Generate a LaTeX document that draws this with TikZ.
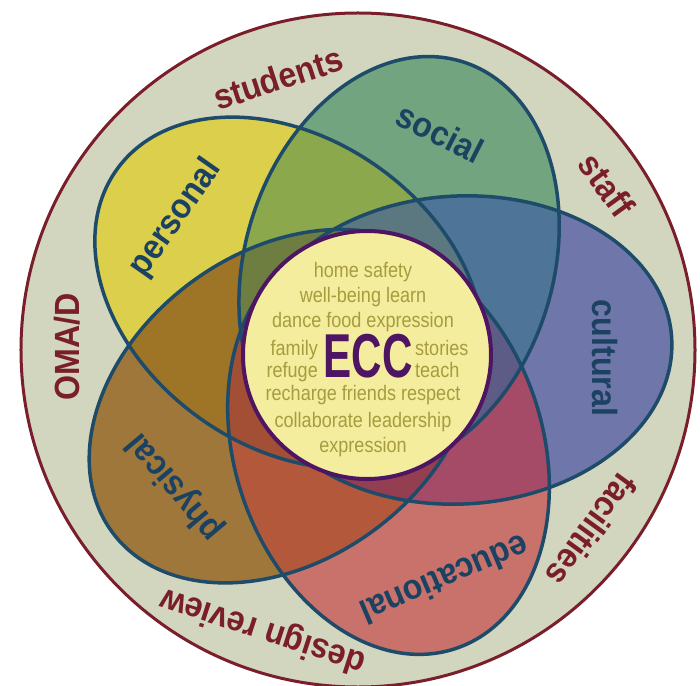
\documentclass[tikz,border=0pt]{standalone}
\usepackage{fontspec}
\setmainfont{Liberation Sans}
\usetikzlibrary{positioning}
\definecolor{ringfill}{HTML}{D2D6BE}
\definecolor{ringline}{HTML}{7A1E2C}
\definecolor{rimline}{HTML}{1D4B69}
\definecolor{setline}{HTML}{1C4262}
\definecolor{eccfill}{HTML}{F3ED9D}
\definecolor{eccline}{HTML}{4E1662}
\definecolor{wordtext}{HTML}{A79C3E}
% one colour per set
\definecolor{social}{HTML}{72A47F}
\definecolor{cultural}{HTML}{6F76A9}
\definecolor{educational}{HTML}{C8726B}
\definecolor{physical}{HTML}{9F773A}
\definecolor{personal}{HTML}{DBCF4B}
% overlaps
\definecolor{cPS}{HTML}{8BA84D}
\definecolor{cSC}{HTML}{4E7597}
\definecolor{cCE}{HTML}{A54A67}
\definecolor{cEPh}{HTML}{B4583B}
\definecolor{cPhP}{HTML}{9E7426}
\definecolor{cPC}{HTML}{6F7C68}
\definecolor{cSE}{HTML}{8D6F62}
\definecolor{cCPh}{HTML}{7E5A62}
\definecolor{cEP}{HTML}{B8782F}
\definecolor{cPhS}{HTML}{7C8A48}
\definecolor{cPSC}{HTML}{5B7881}
\definecolor{cSCE}{HTML}{5D5C86}
\definecolor{cCEPh}{HTML}{943F51}
\definecolor{cEPhP}{HTML}{A34F36}
\definecolor{cPhPS}{HTML}{6D7E40}
\tikzset{
  ring/.style = {fill=ringfill, draw=ringline, line width=3pt},
  rim/.style = {draw=rimline, line width=3.5pt},% ellipse outline
  ringlabel/.style = {font=\bfseries\fontsize{35}{35}\selectfont,
    text=ringline, inner sep=0pt, xscale=0.92},
  setlabel/.style = {font=\bfseries\fontsize{35}{35}\selectfont,
    text=setline, inner sep=0pt, xscale=0.92},
  word/.style = {font=\fontsize{21}{21}\selectfont, text=wordtext,
    inner sep=0pt, anchor=base, xscale=0.86},
  core/.style = {circle, fill=eccfill, draw=eccline, line width=4pt,
    minimum size=248pt, inner sep=0pt}
}
% the five sets
\def\setS{(68.7:96.6) ellipse [x radius=212, y radius=154, rotate=72.5]}
\def\setC{(96,4) ellipse [x radius=212, y radius=154, rotate=3]}
\def\setE{(-75.3:96.6) ellipse [x radius=212, y radius=154, rotate=-71.5]}
\def\setPh{(-147.3:96.6) ellipse [x radius=212, y radius=154, rotate=-143.5]}
\def\setP{(140.7:96.6) ellipse [x radius=212, y radius=154, rotate=144.5]}
\newcommand\vennset[1]{\csname set#1\endcsname}
\begin{document}
\begin{tikzpicture}[x=1pt, y=1pt]
  \useasboundingbox (-364,-331) rectangle (336,354);
  \draw[ring] (-6,4) circle (337);
  % sets
  \fill[social] \setS;
  \fill[cultural] \setC;
  \fill[educational] \setE;
  \fill[physical] \setPh;
  \fill[personal] \setP;
  \foreach \i/\j/\c in {P/S/cPS, S/C/cSC, C/E/cCE, E/Ph/cEPh, Ph/P/cPhP,
                        P/C/cPC, S/E/cSE, C/Ph/cCPh, E/P/cEP, Ph/S/cPhS}{
    \begin{scope}
      \clip \vennset{\i};
      \fill[\c] \vennset{\j};
    \end{scope}
  }
  \foreach \i/\j/\m/\c in {P/S/C/cPSC, S/C/E/cSCE, C/E/Ph/cCEPh, E/Ph/P/cEPhP, Ph/P/S/cPhPS}{
    \begin{scope}
      \clip \vennset{\i};
      \clip \vennset{\j};
      \fill[\c] \vennset{\m};
    \end{scope}
  }
  \foreach \k in {S, C, E, Ph, P}
    \draw[rim] \vennset{\k};
  % ring labels
  \node[rotate=18, ringlabel] (students) at (-86,276) {students};
  \node[rotate=-54, ringlabel] (staff) at (243,169) {staff};
  \node[rotate=-126, ringlabel] (facilities) at (228,-176) {facilities};
  \node[rotate=162, ringlabel] (review) at (-101,-276) {design review};
  \node[rotate=90, ringlabel] (omad) at (-297,7) {OMA/D};
  % set labels
  \node[rotate=-27, setlabel] (social) at (76,221) {social};
  \node[rotate=-90, setlabel] (cultural) at (241,-4) {cultural};
  \node[rotate=-157, setlabel] (educational) at (81,-226) {educational};
  \node[rotate=130, setlabel] (physical) at (-189,-133) {physical};
  \node[rotate=55, setlabel] (personal) at (-188,136) {personal};
  % centre
  \node[core] (core) at (3,-1) {};
  \node[font=\bfseries\fontsize{62}{62}\selectfont, text=eccline,
    inner sep=0pt, anchor=base, xscale=0.68] (ecc) at (4,-23) {ECC};
  \node[word] (w1) at (-1,76.5) {home safety};
  \node[word] (w2) at (-1,51.5) {well-being learn};
  \node[word] (w3) at (-1,26.5) {dance food expression};
  \node[word, anchor=base east] (family) at (-46,-1.5) {family};
  \node[word, anchor=base west] (stories) at (51,-1.5) {stories};
  \node[word, anchor=base east] (refuge) at (-46,-23.5) {refuge};
  \node[word, anchor=base west] (teach) at (51,-23.5) {teach};
  \node[word] (w4) at (-1,-46.5) {recharge friends respect};
  \node[word] (w5) at (-1,-73.5) {collaborate leadership};
  \node[word] (w6) at (-1,-98.5) {expression};
\end{tikzpicture}
\end{document}
